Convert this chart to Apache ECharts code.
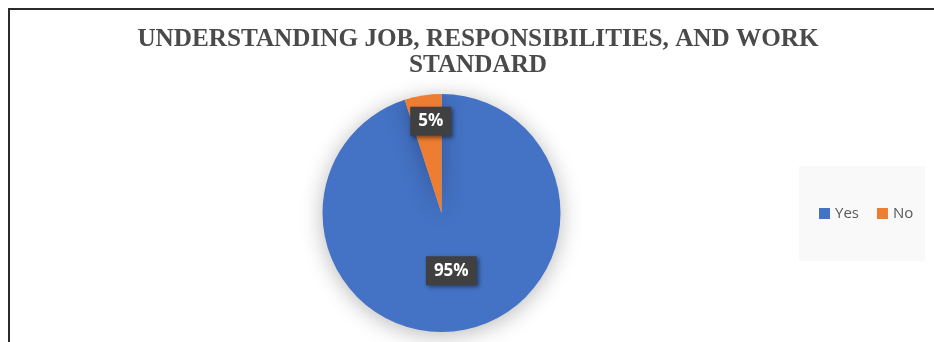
<!DOCTYPE html>
<html>
<head>
<meta charset="utf-8">
<script src="https://cdn.jsdelivr.net/npm/echarts@6/dist/echarts.min.js"></script>
<style>
html,body{margin:0;padding:0;background:#fff;}
#wrap{position:relative;width:934px;height:342px;overflow:hidden;background:#fff;}
#chart{position:absolute;left:0;top:0;width:934px;height:342px;}
#frame{position:absolute;left:8px;top:8px;width:960px;height:400px;border-left:2px solid #2b2b2b;border-top:2px solid #2b2b2b;pointer-events:none;}
</style>
</head>
<body>
<div id="wrap"><div id="chart"></div><div id="frame"></div></div>
<script>
const titleText = 'UNDERSTANDING JOB, RESPONSIBILITIES, AND WORK\nSTANDARD';
const categories = ['Yes', 'No'];
const values = [95, 5];
const colors = ['#4472C4', '#ED7D31'];

const chart = echarts.init(document.getElementById('chart'), null, {renderer: 'canvas'});
const labelOffsets = [[0, -4], [-1, -30]];
chart.setOption({
  backgroundColor: 'transparent',
  animation: false,
  title: {
    text: titleText,
    left: 478,
    top: 26,
    textAlign: 'center',
    padding: 0,
    textStyle: {
      fontFamily: 'Liberation Serif',
      fontWeight: 'bold',
      fontSize: 25.2,
      lineHeight: 26,
      color: '#4a4a4a'
    }
  },
  legend: {
    data: categories,
    orient: 'horizontal',
    left: 799,
    top: 166,
    padding: [40, 12, 40, 20],
    backgroundColor: '#f9f9f9',
    itemWidth: 11,
    itemHeight: 11,
    itemGap: 18,
    icon: 'rect',
    selectedMode: false,
    textStyle: {fontFamily: 'Open Sans', fontSize: 15, color: '#595959'}
  },
  series: [{
    type: 'pie',
    center: [441.5, 213],
    radius: 119,
    startAngle: 90,
    clockwise: true,
    silent: true,
    itemStyle: {shadowBlur: 22, shadowColor: 'rgba(0,0,0,0.28)', shadowOffsetY: 3},
    label: {
      show: true,
      position: 'inside',
      formatter: p => p.value + '%',
      color: '#ffffff',
      fontFamily: 'Open Sans',
      fontWeight: 'bold',
      fontSize: 17,
      lineHeight: 18,
      backgroundColor: '#404040',
      padding: [6, 8, 5, 8],
      shadowBlur: 4,
      shadowColor: 'rgba(0,0,0,0.45)',
      shadowOffsetX: 2,
      shadowOffsetY: 2
    },
    labelLine: {show: false},
    data: categories.map((c, i) => ({
      name: c,
      value: values[i],
      itemStyle: {color: colors[i]},
      label: {offset: labelOffsets[i]}
    }))
  }]
});
</script>
</body>
</html>
